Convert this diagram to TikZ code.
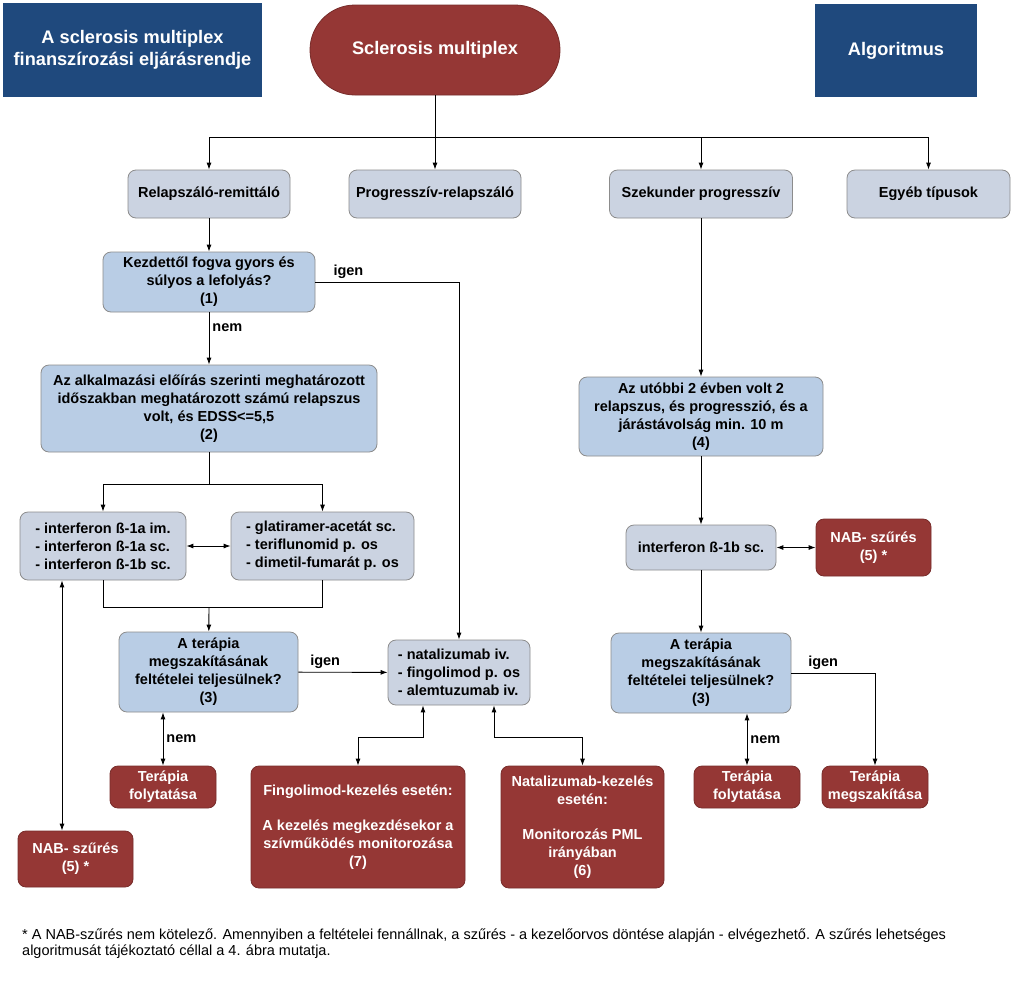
\documentclass[tikz,border=0pt]{standalone}
\usepackage{fontspec}
\setmainfont{Liberation Sans}
\usetikzlibrary{arrows.meta,positioning}

\definecolor{headblue}{HTML}{1F497D}
\definecolor{actred}{HTML}{953735}
\definecolor{qblue}{HTML}{B9CDE5}
\definecolor{kindgray}{HTML}{CBD3E1}

\tikzset{
  box/.style={rounded corners=8pt, draw=black!45, line width=0.8pt, inner sep=1pt,
    align=center, font=\bfseries\fontsize{14.5}{18}\selectfont},
  kind/.style={box, fill=kindgray},
  question/.style={box, fill=qblue},
  drug/.style={box, fill=kindgray, align=left},
  action/.style={box, fill=actred, draw=actred!80!black, text=white},
  titlebox/.style={fill=headblue, text=white, align=center,
    font=\bfseries\fontsize{18.2}{22}\selectfont},
  link/.style={-{Latex[length=7pt,width=5pt]}, line width=0.9pt},
  twoway/.style={{Latex[length=7pt,width=5pt]}-{Latex[length=7pt,width=5pt]}, line width=0.9pt},
  lbl/.style={font=\bfseries\fontsize{14.5}{16}\selectfont, inner sep=3pt}
}

\begin{document}
\begin{tikzpicture}[x=1pt,y=-1pt]
   \path[fill=white] (0,0) rectangle (1024,983) ; %
   \useasboundingbox (0,0) rectangle (1024,983) ; %

   % head row
   \node[titlebox, minimum width=259pt, minimum height=94pt] (T1) at (132.5,50)
      {A sclerosis multiplex\\finanszírozási eljárásrendje} ; %
   \node[titlebox, minimum width=162pt, minimum height=93pt] (AL) at (896,50.5) {Algoritmus} ; %
   \node[action, rounded corners=45pt, minimum width=250pt, minimum height=90pt,
      font=\bfseries\fontsize{18.2}{22}\selectfont] (SM) at (435,50) {Sclerosis multiplex} ; %

   % types
   \node[kind, minimum width=162pt, minimum height=48pt] (RR) at (209,194) {Relapszáló-remittáló} ; %
   \node[kind, minimum width=172pt, minimum height=48pt] (PR) at (435,194) {Progresszív-relapszáló} ; %
   \node[kind, minimum width=183pt, minimum height=48pt] (SP) at (701,194) {Szekunder progresszív} ; %
   \node[kind, minimum width=163pt, minimum height=48pt] (EG) at (928.5,194) {Egyéb típusok} ; %

   % left branch
   \node[question, minimum width=212pt, minimum height=60pt] (Q1) at (209,282)
      {Kezdettől fogva gyors és\\súlyos a lefolyás?\\(1)} ; %
   \node[question, minimum width=336pt, minimum height=87pt] (Q2) at (209,408.5)
      {Az alkalmazási előírás szerinti meghatározott\\időszakban meghatározott számú relapszus\\volt, és EDSS<=5,5\\(2)} ; %
   \node[drug, minimum width=166pt, minimum height=68pt] (IF) at (103,546)
      {- interferon ß-1a im.\\- interferon ß-1a sc.\\- interferon ß-1b sc.} ; %
   \node[drug, minimum width=183pt, minimum height=68pt] (GL) at (322.5,546)
      {- glatiramer-acetát sc.\\- teriflunomid p. os\\- dimetil-fumarát p. os} ; %
   \node[question, minimum width=179pt, minimum height=80pt] (Q3L) at (208.5,672)
      {A terápia\\megszakításának\\feltételei teljesülnek?\\(3)} ; %
   \node[drug, minimum width=142pt, minimum height=65pt] (NAT) at (459,672.5)
      {- natalizumab iv.\\- fingolimod p. os\\- alemtuzumab iv.} ; %
   \node[action, minimum width=106pt, minimum height=42pt] (TF1) at (163,787) {Terápia\\folytatása} ; %
   \node[action, minimum width=115pt, minimum height=56pt] (NAB1) at (75.5,859) {NAB- szűrés\\(5) *} ; %
   \node[action, minimum width=214pt, minimum height=122pt] (FING) at (358,827)
      {Fingolimod-kezelés esetén:\\[17pt]A kezelés megkezdésekor a\\szívműködés monitorozása\\(7)} ; %
   \node[action, minimum width=163pt, minimum height=122pt] (NATK) at (582.5,827)
      {Natalizumab-kezelés\\esetén:\\[17pt]Monitorozás PML\\irányában\\(6)} ; %

   % right branch
   \node[question, minimum width=244pt, minimum height=79pt] (Q4) at (701,416.5)
      {Az utóbbi 2 évben volt 2\\relapszus, és progresszió, és a\\járástávolság min. 10 m\\(4)} ; %
   \node[kind, minimum width=150pt, minimum height=45pt] (IFB) at (701,547.5) {interferon ß-1b sc.} ; %
   \node[action, minimum width=115pt, minimum height=57pt] (NAB2) at (873.5,547.5) {NAB- szűrés\\(5) *} ; %
   \node[question, minimum width=180pt, minimum height=80pt] (Q3R) at (701,673)
      {A terápia\\megszakításának\\feltételei teljesülnek?\\(3)} ; %
   \node[action, minimum width=106pt, minimum height=42pt] (TF2) at (747,787) {Terápia\\folytatása} ; %
   \node[action, minimum width=106pt, minimum height=42pt] (TM) at (875,787) {Terápia\\megszakítása} ; %

   % footnote
   \node[anchor=north west, align=left, inner sep=0pt, font=\fontsize{14.5}{16}\selectfont] (FN) at (22,929)
      {* A NAB-szűrés nem kötelező. Amennyiben a feltételei fennállnak, a szűrés - a kezelőorvos döntése alapján - elvégezhető. A szűrés lehetséges\\algoritmusát tájékoztató céllal a 4. ábra mutatja.} ; %

   % edges
   \coordinate (J) at (435,137) ; %
   \draw[line width=0.9pt] (SM) -- (J) ; %
   \draw[link] (J) -| (RR) ; %
   \draw[link] (J) -- (PR) ; %
   \draw[link] (J) -| (SP) ; %
   \draw[link] (J) -| (EG) ; %

   \draw[link] (RR) -- (Q1) ; %
   \draw[link] (Q1) -- node[lbl, right, pos=0.3] {nem} (Q2) ; %
   \draw[link] (Q1.east) -| node[lbl, above, pos=0.115] {igen} (NAT) ; %

   \coordinate (S2) at (209,484) ; %
   \draw[line width=0.9pt] (Q2) -- (S2) ; %
   \draw[link] (S2) -| (IF) ; %
   \draw[link] (S2) -| (GL) ; %
   \draw[twoway] (IF) -- (GL) ; %
   \coordinate (M2) at (209,607) ; %
   \draw[line width=0.9pt] (IF) |- (M2) -| (GL) ; %
   \draw[link] (M2) -- (Q3L) ; %
   \draw[link] (Q3L) -- node[lbl, above, pos=0.3] {igen} (NAT) ; %
   \draw[twoway] (Q3L.south -| TF1.north) -- node[lbl, right] {nem} (TF1.north) ; %
   \draw[twoway] ([xshift=-41pt]IF.south) -- ([xshift=-41pt]IF.south |- NAB1.north) ; %
   \draw[twoway] ([xshift=-36pt]NAT.south) -- ++(0,32) -| (FING) ; %
   \draw[twoway] ([xshift=35pt]NAT.south) -- ++(0,32) -| (NATK) ; %

   \draw[link] (SP) -- (Q4) ; %
   \draw[link] (Q4) -- (IFB) ; %
   \draw[twoway] (IFB) -- (NAB2) ; %
   \draw[link] (IFB) -- (Q3R) ; %
   \draw[twoway] (Q3R.south -| TF2.north) -- node[lbl, right] {nem} (TF2.north) ; %
   \draw[link] (Q3R.east) -| node[lbl, above, pos=0.19] {igen} (TM) ; %

\end{tikzpicture}
\end{document}
